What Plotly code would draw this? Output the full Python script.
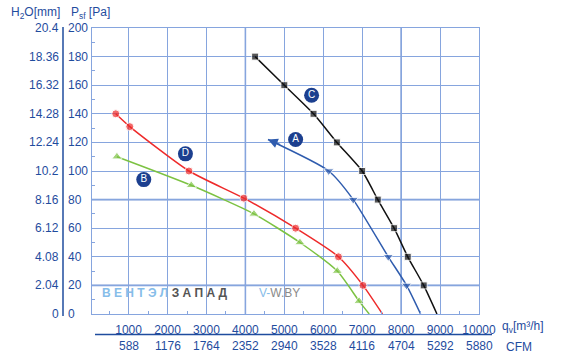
import plotly.graph_objects as go

# ---- data ----
A_x = [4580, 6140, 6770, 7670, 8140, 8500]
A_y = [122, 100, 80, 40, 20, 0]
B_x = [700, 2610, 4220, 5400, 6360, 6920, 7180]
B_y = [110, 90, 70, 50, 30, 9, 0]
C_x = [4250, 5000, 5750, 6350, 7000, 7400, 7820, 8170, 8580, 8920]
C_y = [180, 160, 140, 120, 100, 80, 60, 40, 20, 0]
D_x = [670, 1030, 2550, 3960, 5290, 6390, 7020, 7520]
D_y = [140, 131, 100, 81, 60, 40, 20, 0]

x_ticks = [1000, 2000, 3000, 4000, 5000, 6000, 7000, 8000, 9000, 10000]
cfm_labels = ["588", "1176", "1764", "2352", "2940", "3528", "4116", "4704", "5292", "5880"]
pa_ticks = [0, 20, 40, 60, 80, 100, 120, 140, 160, 180, 200]
mm_labels = ["0", "2.04", "4.08", "6.12", "8.16", "10.2", "12.24", "14.28", "16.32", "18.36", "20.4"]

badge_labels = ["A", "B", "C", "D"]
badge_x = [5290, 1390, 5700, 2460]
badge_y = [122, 94, 153, 112]

BLUE_TXT = "#1f4c9e"
GRID = "#86a5de"
GRID_THICK = "#7596d6"
FONT = "Liberation Sans, Arial, sans-serif"

fig = go.Figure()

def curve(x, y, color, symbol, sizes):
    fig.add_trace(go.Scatter(
        x=x, y=y, mode="lines+markers",
        line=dict(color=color, width=1.5, shape="spline", smoothing=0.6),
        marker=dict(color=color, symbol=symbol, size=sizes),
        showlegend=False, hoverinfo="skip"))

curve(D_x, D_y, "#ee2a2a", "circle", [8] * (len(D_x) - 1) + [0])
curve(B_x, B_y, "#7cc242", "triangle-up", [9] * (len(B_x) - 1) + [0])
curve(A_x, A_y, "#2f5cae", "triangle-down", [0] + [9] * (len(A_x) - 2) + [0])
curve(C_x, C_y, "#111111", "square", [7] * (len(C_x) - 1) + [0])

# arrow at start of curve A
fig.add_annotation(x=A_x[0], y=A_y[0], ax=A_x[0] + 350, ay=A_y[0] - 4,
                   xref="x", yref="y", axref="x", ayref="y", text="",
                   showarrow=True, arrowhead=2, arrowsize=1.3, arrowwidth=1.5,
                   arrowcolor="#2f5cae")

# badges
fig.add_trace(go.Scatter(
    x=badge_x, y=badge_y, mode="markers+text", text=badge_labels,
    textfont=dict(color="white", size=10, family=FONT),
    marker=dict(color="#1c3f8f", size=15, line=dict(width=0)),
    textposition="middle center", showlegend=False, hoverinfo="skip"))

fig.update_layout(
    width=574, height=359,
    margin=dict(l=92, r=95, t=28, b=45),
    paper_bgcolor="white", plot_bgcolor="white",
    font=dict(family=FONT, color=BLUE_TXT, size=12),
    xaxis=dict(range=[60, 10000], tickvals=x_ticks, ticktext=[str(v) for v in x_ticks],
               showgrid=True, gridcolor=GRID, gridwidth=1, zeroline=False,
               showline=True, linecolor=GRID, linewidth=1, mirror=True,
               ticks="", ticklabelstandoff=5, automargin=False,
               tickfont=dict(size=12, color=BLUE_TXT, family=FONT),
               minor=dict(ticks="inside", ticklen=3, dtick=1000, tick0=500,
                          tickcolor=GRID, showgrid=False)),
    yaxis=dict(range=[0, 200], tickvals=pa_ticks, showticklabels=False,
               showgrid=True, gridcolor=GRID, gridwidth=1, zeroline=False,
               showline=True, linecolor=GRID, linewidth=1, mirror=True,
               ticks="", automargin=False,
               minor=dict(ticks="inside", ticklen=3, dtick=20, tick0=10,
                          tickcolor=GRID, showgrid=False)),
)

# thicker grid lines
for v in [20, 80]:
    fig.add_shape(type="line", xref="paper", yref="y", x0=0, x1=1, y0=v, y1=v,
                  line=dict(color=GRID_THICK, width=1.8), layer="below")
for v in [4000, 8000]:
    fig.add_shape(type="line", xref="x", yref="paper", x0=v, x1=v, y0=0, y1=1,
                  line=dict(color=GRID_THICK, width=1.5), layer="below")

# left axis labels
W = 387.0
H = 286.0
def px(xp):
    return (xp - 92) / W
def py(yp):
    return (314 - yp) / H

for v, mm in zip(pa_ticks, mm_labels):
    fig.add_annotation(x=px(66), y=v, xref="paper", yref="y", text=str(v),
                       showarrow=False, xanchor="left", yanchor="middle",
                       font=dict(size=12, color=BLUE_TXT))
    fig.add_annotation(x=px(60.5), y=v, xref="paper", yref="y", text=mm,
                       showarrow=False, xanchor="right", yanchor="middle",
                       font=dict(size=12, color=BLUE_TXT))
fig.add_shape(type="line", xref="paper", yref="paper", x0=px(63), x1=px(63),
              y0=py(27), y1=py(316), line=dict(color=BLUE_TXT, width=1.5))
fig.add_annotation(x=px(62), y=py(13), xref="paper", yref="paper",
                   text="H<sub>2</sub>O[mm]", showarrow=False, xanchor="right",
                   yanchor="middle", font=dict(size=12, color=BLUE_TXT))
fig.add_annotation(x=px(69), y=py(13), xref="paper", yref="paper",
                   text="P<sub>sf</sub> [Pa]", showarrow=False, xanchor="left",
                   yanchor="middle", font=dict(size=12, color=BLUE_TXT))

# CFM row
for v, lab in zip(x_ticks, cfm_labels):
    fig.add_annotation(x=v, y=py(346), xref="x", yref="paper", text=lab,
                       showarrow=False, xanchor="center", yanchor="middle",
                       font=dict(size=12, color=BLUE_TXT))
fig.add_shape(type="line", xref="paper", yref="paper", x0=px(95), x1=px(492),
              y0=py(334.5), y1=py(334.5), line=dict(color=BLUE_TXT, width=1.5))
fig.add_annotation(x=px(500), y=py(327), xref="paper", yref="paper",
                   text="q<sub>v</sub>[m³/h]", showarrow=False, xanchor="left",
                   yanchor="middle", font=dict(size=12, color=BLUE_TXT))
fig.add_annotation(x=px(504), y=py(347), xref="paper", yref="paper",
                   text="CFM", showarrow=False, xanchor="left",
                   yanchor="middle", font=dict(size=12, color=BLUE_TXT))

# watermark
fig.add_annotation(x=px(100), y=py(293), xref="paper", yref="paper",
                   text="<b><span style='color:#86bde9'>В Е Н Т Э Л</span> "
                        "<span style='color:#555555'>З А П А Д</span></b>",
                   showarrow=False, xanchor="left", yanchor="middle",
                   font=dict(size=12))
fig.add_annotation(x=px(257), y=py(293), xref="paper", yref="paper",
                   text="<span style='color:#86bde9'>V-</span>"
                        "<span style='color:#8a8a8a'>W.BY</span>",
                   showarrow=False, xanchor="left", yanchor="middle",
                   font=dict(size=12))

fig.write_html("out.html", config={"displayModeBar": False},
               post_script="document.body.style.margin='0';document.body.style.padding='0';")
